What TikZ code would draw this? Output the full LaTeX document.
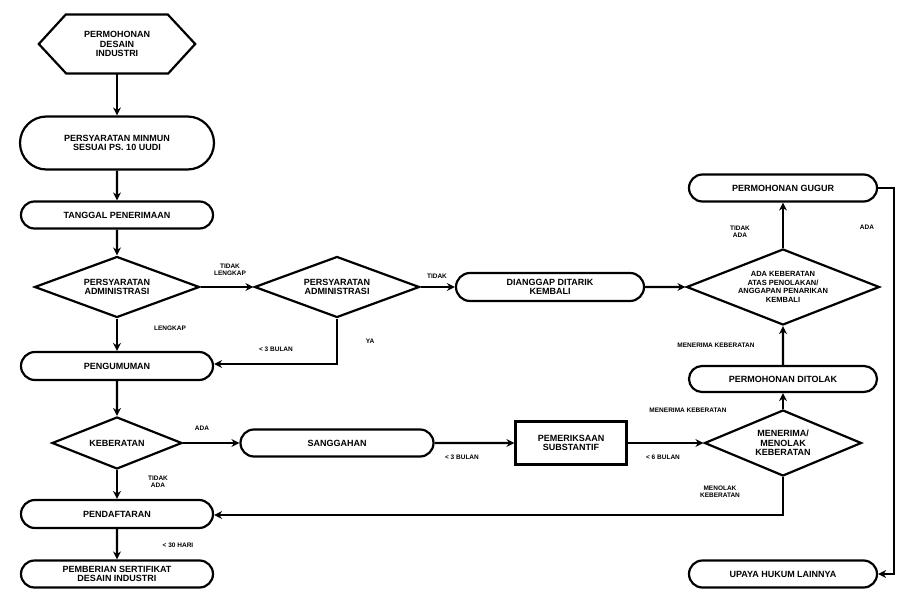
\documentclass[tikz,border=0pt]{standalone}
\usepackage{fontspec}
\setmainfont{Liberation Sans}
\usetikzlibrary{shapes.geometric,shapes.misc,arrows.meta}
\begin{document}
\begin{tikzpicture}[x=1pt,y=-1pt,
  every node/.style={font=\bfseries\fontsize{9}{9.5}\selectfont,align=center,inner sep=1pt},
  box/.style={draw,line width=2.2pt,rounded rectangle,minimum height=27pt},
  dia/.style={draw,line width=2.2pt,diamond,aspect=2.7,inner sep=0pt},
  lab/.style={font=\bfseries\fontsize{6.5}{7}\selectfont,inner sep=0pt},
  ar/.style={line width=2.2pt,-{Stealth[length=8pt,width=8pt]}}]
\useasboundingbox (0,0) rectangle (920,612);
\node (hex) [minimum width=156pt,minimum height=59pt,inner sep=0pt] at (117,44) {PERMOHONAN\\DESAIN\\INDUSTRI};
\draw[line width=2.2pt,line join=miter] (hex.west) -- ++(27,-29.5) -- ++(102,0) -- (hex.east) -- ++(-27,29.5) -- ++(-102,0) -- cycle;
\node (min) [box,minimum width=196pt,minimum height=53pt] at (117,143) {PERSYARATAN MINMUN\\SESUAI PS. 10 UUDI};
\node (tgl) [box,minimum width=194pt] at (117,215) {TANGGAL PENERIMAAN};
\node (d1) [dia,minimum width=165pt,minimum height=61pt] at (117,287) {PERSYARATAN\\ADMINISTRASI};
\node (d2) [dia,minimum width=165pt,minimum height=61pt] at (337,287) {PERSYARATAN\\ADMINISTRASI};
\node (dtk) [box,minimum width=190pt,minimum height=28pt] at (550,287) {DIANGGAP DITARIK\\KEMBALI};
\node (d3) [dia,minimum width=193pt,minimum height=76pt] at (783,287) {\fontsize{7.5}{8}\selectfont ADA KEBERATAN\\[-1pt]\fontsize{7.5}{8}\selectfont ATAS PENOLAKAN/\\[-1pt]\fontsize{7.5}{8}\selectfont ANGGAPAN PENARIKAN\\[-1pt]\fontsize{7.5}{8}\selectfont KEMBALI};
\node (ggr) [box,minimum width=190pt] at (783,188) {PERMOHONAN GUGUR};
\node (tlk) [box,minimum width=190pt,minimum height=26pt] at (783,379) {PERMOHONAN DITOLAK};
\node (d4) [dia,minimum width=157pt,minimum height=66pt] at (783,443) {MENERIMA/\\MENOLAK\\KEBERATAN};
\node (pem) [draw,line width=2.2pt,minimum width=111pt,minimum height=43pt] at (571,443) {PEMERIKSAAN\\SUBSTANTIF};
\node (sgh) [box,minimum width=195pt] at (337,443) {SANGGAHAN};
\node (keb) [dia,minimum width=130pt,minimum height=52pt] at (117,443) {KEBERATAN};
\node (pgm) [box,minimum width=194pt,minimum height=28pt] at (117,366) {PENGUMUMAN};
\node (pdf) [box,minimum width=194pt,minimum height=28pt] at (117,514) {PENDAFTARAN};
\node (sert) [box,minimum width=194pt] at (117,574) {PEMBERIAN SERTIFIKAT\\DESAIN INDUSTRI};
\node (up) [box,minimum width=190pt] at (783,574) {UPAYA HUKUM LAINNYA};
\coordinate (c1) at (337,364);
\coordinate (c2) at (783,515);
\coordinate (c3) at (894,188);
\coordinate (c4) at (894,574);
\draw[ar] (hex) -- (min);
\draw[ar] (min) -- (tgl);
\draw[ar] (tgl) -- (d1);
\draw[ar] (d1) -- (d2);
\draw[ar] (d2) -- (dtk);
\draw[ar] (dtk) -- (d3);
\draw[ar] (d3) -- (ggr);
\draw[ar] (tlk) -- (d3);
\draw[ar] (d4) -- (tlk);
\draw[ar] (d1) -- (pgm);
\draw[ar] (d2.south) -- (c1) -- (pgm.east |- c1);
\draw[ar] (pgm) -- (keb);
\draw[ar] (keb) -- (sgh);
\draw[ar] (sgh) -- (pem);
\draw[ar] (pem) -- (d4);
\draw[ar] (keb) -- (pdf);
\draw[ar] (d4.south) -- (c2) -- (pdf.east |- c2);
\draw[ar] (pdf) -- (sert);
\draw[ar] (ggr.east) -- (c3) -- (c4) -- (up.east);
\node[lab] at (230,270) {TIDAK\\LENGKAP};
\node[lab] at (437,276) {TIDAK};
\node[lab] at (170,328) {LENGKAP};
\node[lab] at (276,349) {< 3 BULAN};
\node[lab] at (370,341) {YA};
\node[lab] at (202,428) {ADA};
\node[lab] at (158,482) {TIDAK\\ADA};
\node[lab] at (178,545) {< 30 HARI};
\node[lab] at (462,457) {< 3 BULAN};
\node[lab] at (663,457) {< 6 BULAN};
\node[lab] at (688,410) {MENERIMA KEBERATAN};
\node[lab] at (720,492) {MENOLAK\\KEBERATAN};
\node[lab] at (716,345) {MENERIMA KEBERATAN};
\node[lab] at (740,232) {TIDAK\\ADA};
\node[lab] at (867,227) {ADA};
\end{tikzpicture}
\end{document}
